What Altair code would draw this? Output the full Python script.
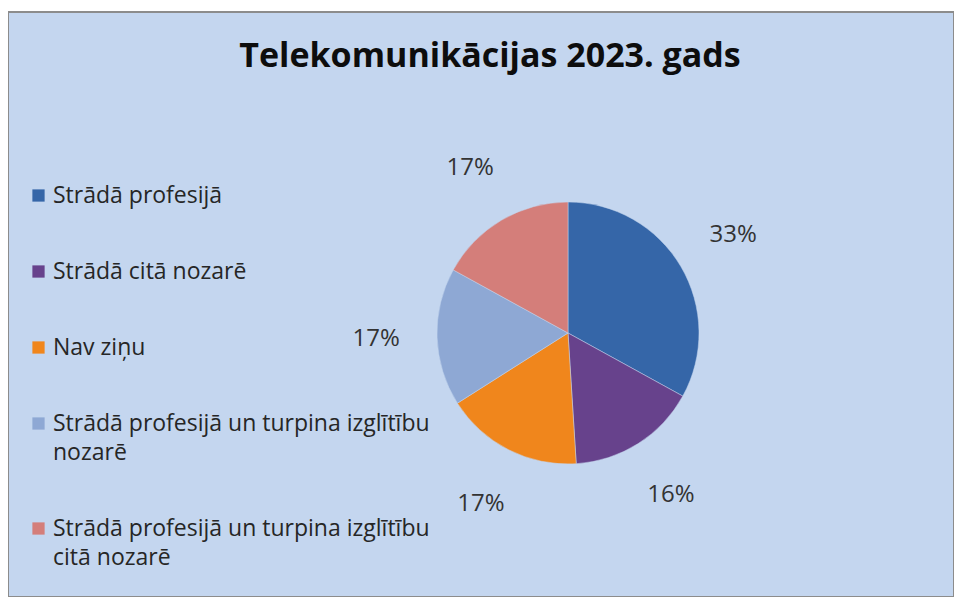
import altair as alt
import pandas as pd

categories = [
    "Strādā profesijā",
    "Strādā citā nozarē",
    "Nav ziņu",
    "Strādā profesijā un turpina izglītību nozarē",
    "Strādā profesijā un turpina izglītību citā nozarē",
]
values = [33, 16, 17, 17, 17]
colors = ["#3566a8", "#67428c", "#f0861c", "#8ea8d4", "#d47e7a"]

df = pd.DataFrame({
    "category": categories,
    "value": values,
    "order": list(range(len(categories))),
    "label": [f"{v}%" for v in values],
})

cx, cy = 560, 321

base = alt.Chart(df).encode(
    theta=alt.Theta("value:Q", stack=True),
    order=alt.Order("order:Q"),
)

pie = base.mark_arc(outerRadius=131, stroke="#c4d6ef", strokeWidth=0.5).encode(
    x=alt.value(cx),
    y=alt.value(cy),
    color=alt.Color(
        "category:N",
        scale=alt.Scale(domain=categories, range=colors),
        sort=categories,
        legend=alt.Legend(
            title=None,
            orient="none",
            legendX=19,
            legendY=172,
            symbolType="square",
            symbolSize=150,
            symbolStrokeWidth=0,
            labelFont="Open Sans",
            labelFontSize=23,
            labelColor="#262626",
            labelLimit=500,
            rowPadding=52,
            labelOffset=3,
            labelExpr="indexof(datum.label, 'izglītību ') > 0 ? [slice(datum.label, 0, indexof(datum.label, 'izglītību ') + 9), slice(datum.label, indexof(datum.label, 'izglītību ') + 10)] : datum.label",
        ),
    ),
)

text = base.mark_text(radius=192, font="Open Sans", fontSize=24, color="#333333").encode(
    x=alt.value(cx),
    y=alt.value(cy),
    text="label:N",
    detail="category:N",
)

chart = (
    alt.layer(pie, text)
    .properties(
        width=946,
        height=585,
        padding={"left": 0, "top": 4, "right": 0, "bottom": 0},
        autosize=alt.AutoSizeParams(type="none"),
        background="white",
        title=alt.TitleParams(
            "Telekomunikācijas 2023. gads",
            font="Open Sans",
            fontSize=34,
            fontWeight="bold",
            color="#0d0d0d",
            anchor="middle",
            dx=9,
            offset=-62,
        ),
    )
    .configure(style={"guide-label": {"lineHeight": 29}})
    .configure_view(fill="#c4d6ef", stroke="#8c8c8c", strokeWidth=2)
)

chart.save("out.html", embed_options={"renderer": "svg", "actions": False})
